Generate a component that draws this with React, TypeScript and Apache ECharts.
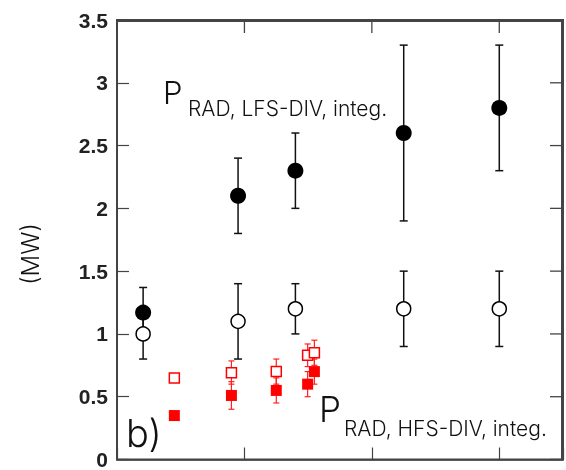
import React, { useEffect, useRef } from "react";
import * as echarts from "echarts";

// LFS-DIV (filled black circles)
const lfsX = [0.205, 0.95, 1.4, 2.25, 3.0];
const lfsVal = [1.17, 2.1, 2.3, 2.6, 2.8];
const lfsLow = [0.97, 1.8, 2.0, 1.9, 2.3];
const lfsHigh = [1.37, 2.4, 2.6, 3.3, 3.3];

// open black circles
const openX = [0.205, 0.95, 1.4, 2.25, 3.0];
const openVal = [1.0, 1.1, 1.2, 1.2, 1.2];
const openLow = [0.8, 0.8, 1.0, 0.9, 0.9];
const openHigh = [1.2, 1.4, 1.4, 1.5, 1.5];

// HFS-DIV (filled red squares)
const hfsX = [0.45, 0.898, 1.25, 1.496, 1.549];
const hfsVal = [0.35, 0.51, 0.55, 0.6, 0.7];
const hfsLow = [0.32, 0.4, 0.45, 0.5, 0.6];
const hfsHigh = [0.38, 0.62, 0.65, 0.7, 0.8];

// open red squares
const hfsOpenX = [0.45, 0.898, 1.25, 1.496, 1.549];
const hfsOpenVal = [0.65, 0.69, 0.7, 0.83, 0.85];
const hfsOpenLow = [null, 0.6, 0.6, 0.74, 0.75];
const hfsOpenHigh = [null, 0.785, 0.8, 0.92, 0.95];

// axis ticks
const xTicks = [0, 1, 2, 3];
const yTicks = [0, 0.5, 1, 1.5, 2, 2.5, 3, 3.5];
const yTickInterval = 0.5;
const yMin = 0;
const yMax = 3.5;
const xMin = 0;
const xMax = 3.5;

const pts = (xs: number[], ys: number[]) => xs.map((x, i) => [x, ys[i]]);
const errs = (xs: number[], lo: (number | null)[], hi: (number | null)[]) =>
  xs
    .map((x, i) => [x, lo[i], hi[i]])
    .filter((d) => d[1] !== null && d[2] !== null);

const errSeries = (data: any[], color: string, capW: number, lw: number) => ({
  type: "custom",
  z: 1,
  data,
  encode: { x: 0, y: [1, 2] },
  renderItem: (params: any, api: any) => {
    const x = api.value(0);
    const lo = api.coord([x, api.value(1)]);
    const hi = api.coord([x, api.value(2)]);
    const hw = capW / 2;
    const style = { stroke: color, lineWidth: lw };
    return {
      type: "group",
      children: [
        { type: "line", shape: { x1: lo[0], y1: lo[1], x2: hi[0], y2: hi[1] }, style },
        { type: "line", shape: { x1: lo[0] - hw, y1: lo[1], x2: lo[0] + hw, y2: lo[1] }, style },
        { type: "line", shape: { x1: hi[0] - hw, y1: hi[1], x2: hi[0] + hw, y2: hi[1] }, style },
      ],
    };
  },
});

export default function App() {
  const ref = useRef<HTMLDivElement>(null);
  useEffect(() => {
    if (!ref.current) return;
    const chart = echarts.init(ref.current, null, { renderer: "svg" });
    const axisColor = "#444";
    const thinFont = "Inter, Roboto, 'Liberation Sans', sans-serif";
    const tickLen = 12;
    const textGraphics: any[] = [
      {
        type: "text",
        x: 30,
        y: 254,
        rotation: Math.PI / 2,
        style: {
          text: "(MW)",
          fontFamily: thinFont,
          fontWeight: 300,
          fontSize: 24,
          fill: "#111",
          align: "center",
          verticalAlign: "middle",
        },
      },
      {
        type: "text",
        x: 163,
        y: 92,
        style: { text: "P", fontFamily: thinFont, fontWeight: 300, fontSize: 31, fill: "#111", align: "left", verticalAlign: "middle" },
      },
      {
        type: "text",
        x: 188,
        y: 108,
        style: {
          text: "RAD, LFS-DIV, integ.",
          fontFamily: thinFont,
          fontWeight: 300,
          fontSize: 21,
          fill: "#111",
          align: "left",
          verticalAlign: "middle",
        },
      },
      {
        type: "text",
        x: 319,
        y: 409,
        style: { text: "P", fontFamily: thinFont, fontWeight: 300, fontSize: 35, fill: "#111", align: "left", verticalAlign: "middle" },
      },
      {
        type: "text",
        x: 344,
        y: 428,
        style: {
          text: "RAD, HFS-DIV, integ.",
          fontFamily: thinFont,
          fontWeight: 300,
          fontSize: 21,
          fill: "#111",
          align: "left",
          verticalAlign: "middle",
        },
      },
      {
        type: "text",
        x: 126,
        y: 433,
        style: { text: "b)", fontFamily: thinFont, fontWeight: 300, fontSize: 38, fill: "#111", align: "left", verticalAlign: "middle" },
      },
    ];
    chart.setOption({
      animation: false,
      grid: {
        left: 117,
        top: 20,
        right: 3,
        bottom: 6,
        show: true,
        borderColor: axisColor,
        borderWidth: 2,
      },
      xAxis: {
        type: "value",
        min: xMin,
        max: xMax,
        interval: 1,
        position: "bottom",
        axisLine: { show: true, onZero: false, lineStyle: { color: axisColor, width: 1.5 } },
        axisTick: { show: true, inside: true, length: tickLen, lineStyle: { color: axisColor, width: 1.2 } },
        axisLabel: { show: false },
        splitLine: { show: false },
      },
      yAxis: {
        type: "value",
        min: yMin,
        max: yMax,
        interval: yTickInterval,
        position: "left",
        axisLine: { show: true, onZero: false, lineStyle: { color: axisColor, width: 1.5 } },
        axisTick: { show: true, inside: true, length: tickLen, lineStyle: { color: axisColor, width: 1.2 } },
        axisLabel: {
          show: true,
          margin: 9,
          fontFamily: "'Liberation Sans', Arial, sans-serif",
          fontWeight: "bold",
          fontSize: 21,
          color: "#222",
        },
        splitLine: { show: false },
      },
      series: [
        errSeries(errs(lfsX, lfsLow, lfsHigh), "#111", 8, 1.5),
        errSeries(errs(openX, openLow, openHigh), "#111", 8, 1.5),
        errSeries(errs(hfsX, hfsLow, hfsHigh), "#ff2020", 6, 1.2),
        errSeries(errs(hfsOpenX, hfsOpenLow, hfsOpenHigh), "#ff2020", 6, 1.2),
        {
          type: "scatter",
          z: 3,
          data: pts(lfsX, lfsVal),
          symbol: "circle",
          symbolSize: 16,
          itemStyle: { color: "#000", borderColor: "#000", borderWidth: 0, opacity: 1 },
        },
        {
          type: "scatter",
          z: 3,
          data: pts(openX, openVal),
          symbol: "circle",
          symbolSize: 14,
          itemStyle: { color: "#fff", borderColor: "#000", borderWidth: 1.5, opacity: 1 },
        },
        {
          type: "scatter",
          z: 3,
          data: pts(hfsX, hfsVal),
          symbol: "rect",
          symbolSize: 11,
          itemStyle: { color: "#ff0000", borderWidth: 0, opacity: 1 },
        },
        {
          type: "scatter",
          z: 3,
          data: pts(hfsOpenX, hfsOpenVal),
          symbol: "rect",
          symbolSize: 10,
          itemStyle: { color: "#fff", borderColor: "#ff0000", borderWidth: 1.5, opacity: 1 },
        },
      ],
      graphic: textGraphics,
    });

    // top and right borders with inward ticks, placed via the axes' own scales
    const tl = chart.convertToPixel({ gridIndex: 0 }, [xMin, yMax]) as number[];
    const br = chart.convertToPixel({ gridIndex: 0 }, [xMax, yMin]) as number[];
    const frameStyle = { stroke: axisColor, lineWidth: 2 };
    const tickStyle = { stroke: axisColor, lineWidth: 1.3 };
    const topY = tl[1] + 1;
    const rightX = br[0] - 1;
    const frame: any[] = [
      { type: "line", z: 100, shape: { x1: tl[0], y1: topY, x2: rightX, y2: topY }, style: frameStyle },
      { type: "line", z: 100, shape: { x1: rightX, y1: topY, x2: rightX, y2: br[1] }, style: frameStyle },
    ];
    xTicks.forEach((t) => {
      const p = chart.convertToPixel({ gridIndex: 0 }, [t, yMax]) as number[];
      frame.push({ type: "line", z: 100, shape: { x1: p[0], y1: topY, x2: p[0], y2: topY + tickLen }, style: tickStyle });
    });
    yTicks.forEach((t) => {
      const p = chart.convertToPixel({ gridIndex: 0 }, [xMax, t]) as number[];
      frame.push({ type: "line", z: 100, shape: { x1: rightX, y1: p[1], x2: rightX - tickLen, y2: p[1] }, style: tickStyle });
    });
    chart.setOption({ graphic: [...textGraphics, ...frame] });

    return () => chart.dispose();
  }, []);
  return <div ref={ref} style={{ position: "fixed", left: 0, top: 0, width: 566, height: 470 }} />;
}
